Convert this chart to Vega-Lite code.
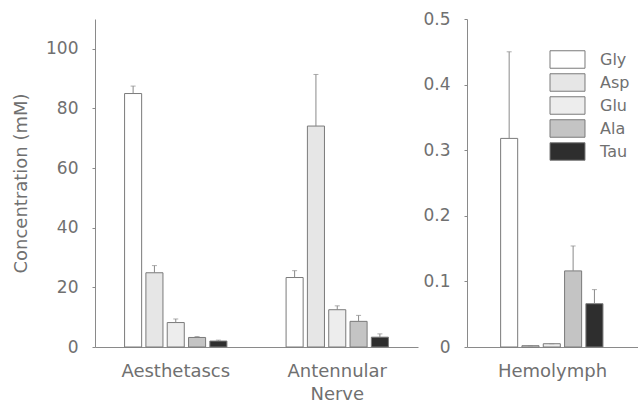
{
  "$schema": "https://vega.github.io/schema/vega-lite/v6.json",
  "padding": {"left": 12, "top": 10, "right": 0, "bottom": 0},
  "autosize": {"type": "pad"},
  "background": "white",
  "spacing": 4,
  "datasets": {
    "left": [
      {"site": "Aesthetascs", "aa": "Gly", "value": 85.0, "err": 87.5},
      {"site": "Aesthetascs", "aa": "Asp", "value": 24.9, "err": 27.3},
      {"site": "Aesthetascs", "aa": "Glu", "value": 8.2, "err": 9.4},
      {"site": "Aesthetascs", "aa": "Ala", "value": 3.2, "err": 3.5},
      {"site": "Aesthetascs", "aa": "Tau", "value": 2.0, "err": 2.3},
      {"site": "Antennular Nerve", "aa": "Gly", "value": 23.3, "err": 25.6},
      {"site": "Antennular Nerve", "aa": "Asp", "value": 74.1, "err": 91.4},
      {"site": "Antennular Nerve", "aa": "Glu", "value": 12.5, "err": 13.8},
      {"site": "Antennular Nerve", "aa": "Ala", "value": 8.6, "err": 10.6},
      {"site": "Antennular Nerve", "aa": "Tau", "value": 3.3, "err": 4.4}
    ],
    "right": [
      {"site": "Hemolymph", "aa": "Gly", "value": 0.318, "err": 0.450},
      {"site": "Hemolymph", "aa": "Asp", "value": 0.002, "err": 0.002},
      {"site": "Hemolymph", "aa": "Glu", "value": 0.005, "err": 0.005},
      {"site": "Hemolymph", "aa": "Ala", "value": 0.116, "err": 0.154},
      {"site": "Hemolymph", "aa": "Tau", "value": 0.066, "err": 0.0875}
    ]
  },
  "config": {
    "view": {"stroke": null},
    "font": "DejaVu Sans",
    "axis": {
      "domainColor": "#8a8a8a",
      "tickColor": "#8a8a8a",
      "labelColor": "#707070",
      "titleColor": "#707070",
      "labelFont": "DejaVu Sans",
      "titleFont": "DejaVu Sans",
      "labelFontSize": 17,
      "titleFontSize": 18,
      "titleFontWeight": "normal",
      "grid": false,
      "tickSize": 3
    },
    "legend": {
      "labelFont": "DejaVu Sans",
      "labelFontSize": 16,
      "labelColor": "#707070"
    }
  },
  "hconcat": [
    {
      "width": 323,
      "height": 328,
      "data": {"name": "left"},
      "layer": [
        {
          "mark": {"type": "bar", "stroke": "#7a7a7a", "strokeWidth": 1},
          "encoding": {
            "x": {"field": "site", "type": "nominal", "sort": null,
              "scale": {"paddingInner": 0.34, "paddingOuter": 0.17},
              "axis": {"title": null, "labelAngle": 0, "ticks": false, "labelPadding": 15, "labelFontSize": 18, "labelExpr": "split(datum.label, ' ')", "labelLineHeight": 23}},
            "xOffset": {"field": "aa", "type": "nominal", "sort": ["Gly", "Asp", "Glu", "Ala", "Tau"],
              "scale": {"paddingInner": 0.2, "paddingOuter": 0.1}},
            "y": {"field": "value", "type": "quantitative",
              "scale": {"domain": [0, 110], "nice": false},
              "axis": {"title": "Concentration (mM)", "values": [0, 20, 40, 60, 80, 100], "titlePadding": 15, "labelPadding": 14}},
            "fill": {"field": "aa", "type": "nominal", "sort": ["Gly", "Asp", "Glu", "Ala", "Tau"],
              "scale": {"domain": ["Gly", "Asp", "Glu", "Ala", "Tau"], "range": ["#ffffff", "#e6e6e6", "#ededed", "#c4c4c4", "#2e2e2e"]},
              "legend": {"title": null, "orient": "none", "legendX": 463, "legendY": 31,
                "symbolType": "M-2,-1H2V1H-2Z", "symbolSize": 306,
                "symbolStrokeColor": "#7a7a7a", "symbolStrokeWidth": 1,
                "rowPadding": 0, "labelOffset": 23}}
          }
        },
        {
          "mark": {"type": "rule", "color": "#8a8a8a", "strokeWidth": 1},
          "encoding": {
            "x": {"field": "site", "type": "nominal", "sort": null},
            "xOffset": {"field": "aa", "type": "nominal", "sort": ["Gly", "Asp", "Glu", "Ala", "Tau"]},
            "y": {"field": "value", "type": "quantitative"},
            "y2": {"field": "err"}
          }
        },
        {
          "mark": {"type": "tick", "color": "#8a8a8a", "size": 5, "thickness": 1},
          "encoding": {
            "x": {"field": "site", "type": "nominal", "sort": null},
            "xOffset": {"field": "aa", "type": "nominal", "sort": ["Gly", "Asp", "Glu", "Ala", "Tau"]},
            "y": {"field": "err", "type": "quantitative"}
          }
        }
      ]
    },
    {
      "width": 171,
      "height": 328,
      "data": {"name": "right"},
      "layer": [
        {
          "mark": {"type": "bar", "stroke": "#7a7a7a", "strokeWidth": 1},
          "encoding": {
            "x": {"field": "site", "type": "nominal", "sort": null,
              "scale": {"paddingInner": 0.34, "paddingOuter": 0.1925},
              "axis": {"title": null, "labelAngle": 0, "ticks": false, "labelPadding": 15, "labelFontSize": 18}},
            "xOffset": {"field": "aa", "type": "nominal", "sort": ["Gly", "Asp", "Glu", "Ala", "Tau"],
              "scale": {"paddingInner": 0.2, "paddingOuter": 0.1}},
            "y": {"field": "value", "type": "quantitative",
              "scale": {"domain": [0, 0.5], "nice": false},
              "axis": {"title": null, "values": [0, 0.1, 0.2, 0.3, 0.4, 0.5], "labelPadding": 14, "labelExpr": "datum.value == 0 ? '0' : format(datum.value, '.1f')"}},
            "fill": {"field": "aa", "type": "nominal", "sort": ["Gly", "Asp", "Glu", "Ala", "Tau"],
              "scale": {"domain": ["Gly", "Asp", "Glu", "Ala", "Tau"], "range": ["#ffffff", "#e6e6e6", "#ededed", "#c4c4c4", "#2e2e2e"]},
              "legend": {"title": null, "orient": "none", "legendX": 463, "legendY": 31,
                "symbolType": "M-2,-1H2V1H-2Z", "symbolSize": 306,
                "symbolStrokeColor": "#7a7a7a", "symbolStrokeWidth": 1,
                "rowPadding": 0, "labelOffset": 23}}
          }
        },
        {
          "mark": {"type": "rule", "color": "#8a8a8a", "strokeWidth": 1},
          "encoding": {
            "x": {"field": "site", "type": "nominal", "sort": null},
            "xOffset": {"field": "aa", "type": "nominal", "sort": ["Gly", "Asp", "Glu", "Ala", "Tau"]},
            "y": {"field": "value", "type": "quantitative"},
            "y2": {"field": "err"}
          }
        },
        {
          "mark": {"type": "tick", "color": "#8a8a8a", "size": 5, "thickness": 1},
          "encoding": {
            "x": {"field": "site", "type": "nominal", "sort": null},
            "xOffset": {"field": "aa", "type": "nominal", "sort": ["Gly", "Asp", "Glu", "Ala", "Tau"]},
            "y": {"field": "err", "type": "quantitative"}
          }
        }
      ]
    }
  ]
}
